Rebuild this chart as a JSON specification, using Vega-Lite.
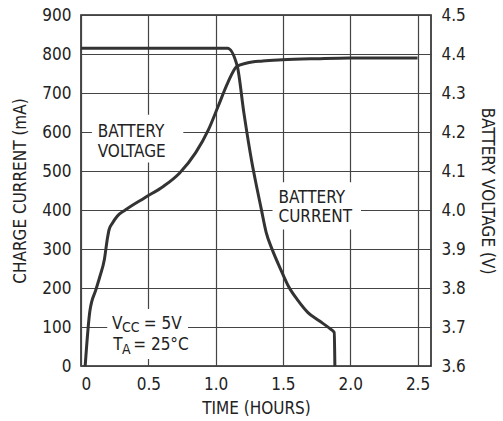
{
  "$schema": "https://vega.github.io/schema/vega-lite/v6.json",
  "width": 350,
  "height": 351,
  "autosize": {"type": "none"},
  "padding": {"left": 81, "top": 15, "right": 72, "bottom": 55},
  "background": "white",
  "config": {
    "view": {"stroke": "#222", "strokeWidth": 1.6},
    "axis": {
      "labelFont": "DejaVu Sans Condensed",
      "titleFont": "DejaVu Sans Condensed",
      "labelFontSize": 17,
      "titleFontSize": 17,
      "titleFontWeight": "normal",
      "labelColor": "#222",
      "titleColor": "#222",
      "ticks": false,
      "domain": false,
      "gridWidth": 1.2,
      "gridOpacity": 1
    }
  },
  "datasets": {
    "current": [
      {"t": 0, "mA": 815}, {"t": 1.088, "mA": 815}, {"t": 1.16, "mA": 770},
      {"t": 1.21, "mA": 649}, {"t": 1.27, "mA": 521}, {"t": 1.304, "mA": 461},
      {"t": 1.34, "mA": 401}, {"t": 1.376, "mA": 342}, {"t": 1.42, "mA": 299},
      {"t": 1.483, "mA": 248}, {"t": 1.54, "mA": 205}, {"t": 1.614, "mA": 167},
      {"t": 1.686, "mA": 137}, {"t": 1.769, "mA": 116}, {"t": 1.852, "mA": 95},
      {"t": 1.881, "mA": 86}, {"t": 1.886, "mA": 0}
    ],
    "voltage": [
      {"t": 0.031, "V": 3.6}, {"t": 0.066, "V": 3.741}, {"t": 0.112, "V": 3.797},
      {"t": 0.138, "V": 3.827}, {"t": 0.174, "V": 3.874}, {"t": 0.197, "V": 3.929},
      {"t": 0.209, "V": 3.95}, {"t": 0.233, "V": 3.966}, {"t": 0.269, "V": 3.984},
      {"t": 0.329, "V": 4.0}, {"t": 0.471, "V": 4.031}, {"t": 0.614, "V": 4.061},
      {"t": 0.733, "V": 4.095}, {"t": 0.852, "V": 4.147}, {"t": 0.947, "V": 4.206},
      {"t": 1.019, "V": 4.266}, {"t": 1.09, "V": 4.326}, {"t": 1.157, "V": 4.368},
      {"t": 1.233, "V": 4.377}, {"t": 1.35, "V": 4.382}, {"t": 1.495, "V": 4.385},
      {"t": 1.75, "V": 4.388}, {"t": 1.995, "V": 4.39}, {"t": 2.5, "V": 4.39}
    ],
    "boxes": [
      {"t1": 0.081, "t2": 0.76, "m1": 522, "m2": 644},
      {"t1": 1.423, "t2": 2.08, "m1": 350, "m2": 471},
      {"t1": 0.195, "t2": 0.795, "m1": 18, "m2": 146}
    ],
    "labels": [
      {"t": 0.124, "mA": 588, "text": "BATTERY"},
      {"t": 0.124, "mA": 537, "text": "VOLTAGE"},
      {"t": 1.467, "mA": 419, "text": "BATTERY"},
      {"t": 1.467, "mA": 368, "text": "CURRENT"},
      {"t": 0.231, "mA": 95, "text": "V"},
      {"t": 0.466, "mA": 95, "text": "= 5V"},
      {"t": 0.24, "mA": 42, "text": "T"},
      {"t": 0.388, "mA": 42, "text": "= 25°C"}
    ],
    "subs": [
      {"t": 0.304, "mA": 87, "text": "CC"},
      {"t": 0.304, "mA": 31, "text": "A"}
    ]
  },
  "layer": [
    {
      "encoding": {
        "x": {"type": "quantitative", "scale": {"domain": [0, 2.5]},
              "axis": {"values": [0, 0.5, 1, 1.5, 2, 2.5], "labelExpr": "datum.value == 0 ? '0' : format(datum.value, '.1f')", "title": "TIME (HOURS)", "labelPadding": 10, "titlePadding": 8, "grid": true, "gridColor": "#444"}},
        "y": {"type": "quantitative", "scale": {"domain": [0, 900]},
              "axis": {"values": [0, 100, 200, 300, 400, 500, 600, 700, 800, 900], "title": "CHARGE CURRENT (mA)", "labelPadding": 10, "titlePadding": 12, "grid": true, "gridColor": "#444"}}
      },
      "layer": [
        {
          "data": {"name": "boxes"},
          "mark": {"type": "rect", "fill": "white"},
          "encoding": {
            "x": {"field": "t1"},
            "x2": {"field": "t2"},
            "y": {"field": "m1"},
            "y2": {"field": "m2"}
          }
        },
        {
          "data": {"name": "current"},
          "mark": {"type": "line", "color": "#333", "strokeWidth": 3, "strokeJoin": "round", "interpolate": "monotone"},
          "encoding": {
            "x": {"field": "t"},
            "y": {"field": "mA"}
          }
        },
        {
          "data": {"name": "labels"},
          "mark": {"type": "text", "align": "left", "baseline": "alphabetic", "color": "#222", "font": "DejaVu Sans Condensed", "fontSize": 17},
          "encoding": {
            "x": {"field": "t"},
            "y": {"field": "mA"},
            "text": {"field": "text"}
          }
        },
        {
          "data": {"name": "subs"},
          "mark": {"type": "text", "align": "left", "baseline": "alphabetic", "color": "#222", "font": "DejaVu Sans Condensed", "fontSize": 14},
          "encoding": {
            "x": {"field": "t"},
            "y": {"field": "mA"},
            "text": {"field": "text"}
          }
        }
      ]
    },
    {
      "data": {"name": "voltage"},
      "mark": {"type": "line", "color": "#333", "strokeWidth": 3, "strokeJoin": "round", "interpolate": "monotone"},
      "encoding": {
        "x": {"field": "t", "type": "quantitative"},
        "y": {"field": "V", "type": "quantitative", "scale": {"domain": [3.6, 4.5], "zero": false},
              "axis": {"orient": "right", "values": [3.6, 3.7, 3.8, 3.9, 4.0, 4.1, 4.2, 4.3, 4.4, 4.5], "format": ".1f", "title": "BATTERY VOLTAGE (V)", "grid": false, "labelPadding": 10, "titlePadding": 12}}
      }
    }
  ],
  "resolve": {"scale": {"y": "independent"}}
}
